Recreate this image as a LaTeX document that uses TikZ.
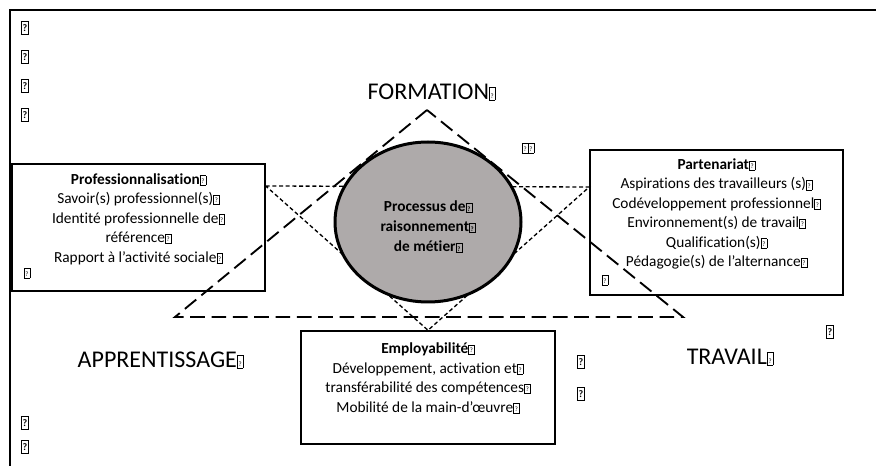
\documentclass[tikz,border=0pt]{standalone}
\usepackage{fontspec}
\setmainfont{Carlito}[Ligatures=NoCommon]
\usepackage{tikz}
\usetikzlibrary{positioning,shapes.geometric}
\definecolor{procgray}{RGB}{174,170,170}
\newcommand{\parmark}[1][5.8pt]{{\setlength{\fboxsep}{0.5pt}\setlength{\fboxrule}{0.35pt}%
  \fbox{\rule{0pt}{#1}\hspace{0.4pt}\raisebox{0.6pt}{\fontsize{5}{5}\selectfont ?}\hspace{0.4pt}}}}
\newcommand{\straymark}{{\setlength{\fboxsep}{0.5pt}\setlength{\fboxrule}{0.9pt}%
  \fbox{\rule{0pt}{7.6pt}\raisebox{1.3pt}{\fontsize{7.5}{7.5}\selectfont\bfseries ?}}}}

\begin{document}
\begin{tikzpicture}[
  x=0.75pt,y=-0.75pt,
  every node/.style={font=\fontsize{11.5}{14.6}\selectfont},
  frame/.style={line width=1.5pt},
  box/.style={draw,line width=1.1pt,inner sep=0pt,
              minimum width=189.75pt},
  boxtxt/.style={align=center,inner sep=0pt,font=\fontsize{11.5}{14.6}\selectfont},
  pole/.style={inner sep=0pt,font=\fontsize{18}{20}\selectfont},
  longdash/.style={line width=1.4pt,dash pattern=on 11pt off 5pt},
  shortdash/.style={line width=1pt,dash pattern=on 3pt off 2pt},
  stray/.style={inner sep=0pt},
  ]
  \useasboundingbox (0,0) rectangle (876,466);

  %─── Page frame ─────────────────────────────────────────────────────────────
  \draw[frame] (10,466) -- (10,10) -- (876,10);

  %─── Three outer boxes ──────────────────────────────────────────────────────
  \node[box,minimum height=95.25pt] (prof) at (138.5,227.5) {};
  \node[box,minimum height=108.75pt] (part) at (716.5,222.5) {};
  \node[box,minimum width=190.5pt,minimum height=84.75pt] (emp) at (428,387.5) {};

  \coordinate (profpin) at ([yshift=31.125pt]prof.east);
  \coordinate (partpin) at ([yshift=26.625pt]part.west);
  \coordinate (emppin) at (emp.north);

  %─── Poles of the big triangle ──────────────────────────────────────────────
  \coordinate (formtip) at (427,110);
  \coordinate (apptip) at (175,317);
  \coordinate (travtip) at (683,317);

  %─── Triangles ──────────────────────────────────────────────────────────────
  \draw[shortdash] (profpin) -- (partpin) -- (emppin) -- cycle;
  \draw[longdash] (formtip) -- (apptip) -- (travtip) -- cycle;

  %─── Central process ────────────────────────────────────────────────────────
  \node[ellipse,draw,line width=2.25pt,fill=procgray,inner sep=0pt,
        minimum width=139.5pt,minimum height=120pt]
    (proc) at (428,222) {};
  \node[boxtxt,font=\fontsize{11.5}{15}\selectfont\bfseries]
    (proctxt) at (428,227)
    {Processus de\parmark\\ raisonnement\parmark\\ de métier\parmark};

  %─── Box texts ──────────────────────────────────────────────────────────────
  \node[boxtxt] (proftxt) at (138.5,219)
    {\textbf{Professionnalisation}\parmark\\
     Savoir(s) professionnel(s)\parmark\\
     Identité professionnelle de\parmark\\
     référence\parmark\\
     Rapport à l’activité sociale\parmark};

  \node[boxtxt] (parttxt) at (716.5,214)
    {\textbf{Partenariat}\parmark\\
     Aspirations des travailleurs (s)\parmark\\
     Codéveloppement professionnel\parmark\\
     Environnement(s) de travail\parmark\\
     Qualification(s)\parmark\\
     Pédagogie(s) de l’alternance\parmark};

  \node[boxtxt] (emptxt) at (428,378)
    {\textbf{Employabilité}\parmark\\
     Développement, activation et\parmark\\
     transférabilité des compétences\parmark\\
     Mobilité de la main-d’œuvre\parmark};

  %─── Poles ──────────────────────────────────────────────────────────────────
  \node[pole] (form) at (431.5,92) {FORMATION\parmark[8.5pt]};
  \node[pole] (app) at (160.5,360) {APPRENTISSAGE\parmark[8.5pt]};
  \node[pole] (trav) at (730,357) {TRAVAIL\parmark[8.5pt]};

  %─── Stray paragraph marks ──────────────────────────────────────────────────
  \foreach \y [count=\i] in {28,57,86,115,423,447}
    \node[stray] (lm\i) at (25,\y) {\straymark};
  \node[stray] (rm1) at (581,362) {\straymark};
  \node[stray] (rm2) at (581,394) {\straymark};
  \node[stray] (rm3) at (830,332) {\straymark};
  \node[stray] (pair) at (528,148)
    {{\setlength{\fboxrule}{0.6pt}\parmark[6.5pt]\hspace{-0.6pt}\parmark[6.5pt]}};
  \node[stray] (profmark) at (27,273) {\parmark};
  \node[stray] (partmark) at (605,280) {\parmark};

\end{tikzpicture}
\end{document}
